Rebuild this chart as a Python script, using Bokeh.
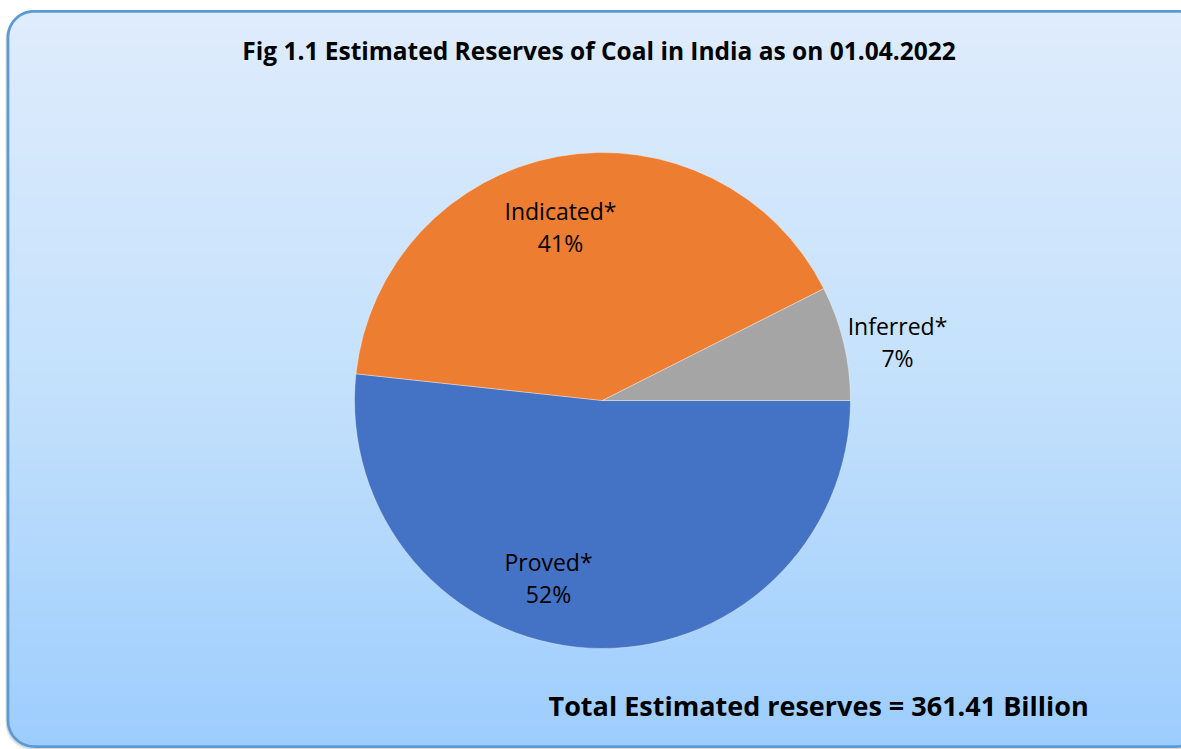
import math
from bokeh.plotting import figure
from bokeh.models import Range1d
from bokeh.core.properties import value
from bokeh.embed import file_html
from bokeh.resources import INLINE

# ---- data ----
categories = ["Proved*", "Indicated*", "Inferred*"]
reserves = [186.9, 147.6, 26.9]          # billion tonnes
colors = ["#4472C4", "#ED7D31", "#A5A5A5"]
title_text = "Fig 1.1 Estimated Reserves of Coal in India as on 01.04.2022"
total_text = "Total  Estimated reserves = 361.41 Billion"

# ---- layout (styling) ----
W, H = 1181, 749
p = figure(width=W, height=H, x_range=Range1d(0, W), y_range=Range1d(0, H),
           x_axis_type=None, y_axis_type=None, toolbar_location=None,
           output_backend="svg", min_border=0)
p.outline_line_color = None
p.grid.visible = False
p.background_fill_color = "white"
p.border_fill_color = "white"

# rounded frame with vertical gradient (drawn as thin overlapping strips)
fl, fr, fb, ft, rad = 7.5, 1203.0, 3.0, 738.2, 26.0
stops = [(0.0, (223, 236, 252)), (0.5, (196, 225, 252)), (1.0, (157, 205, 253))]

def grad(t):
    for (t0, c0), (t1, c1) in zip(stops[:-1], stops[1:]):
        if t0 <= t <= t1:
            f = (t - t0) / (t1 - t0)
            return "#%02x%02x%02x" % tuple(int(round(a + (b - a) * f)) for a, b in zip(c0, c1))
    return "#%02x%02x%02x" % stops[-1][1]

def frame_path(ox=0.0, oy=0.0):
    xs, ys = [], []
    def arc(cx, cy, a0, a1, n=16):
        for i in range(n + 1):
            a = math.radians(a0 + (a1 - a0) * i / n)
            xs.append(ox + cx + rad * math.cos(a)); ys.append(oy + cy + rad * math.sin(a))
    arc(fl + rad, ft - rad, 90, 180)
    arc(fl + rad, fb + rad, 180, 270)
    arc(fr - rad, fb + rad, 270, 360)
    arc(fr - rad, ft - rad, 0, 90)
    xs.append(xs[0]); ys.append(ys[0])
    return xs, ys

# soft shadow
for off, a in [(2.5, 0.12), (1.5, 0.2)]:
    sx, sy = frame_path(-off * 0.6, -off)
    p.line(sx, sy, line_color="#808080", line_width=2.5, line_alpha=a)

lefts, rights, bots, tops, fills = [], [], [], [], []
y = fb
while y < ft:
    yc = y + 0.5
    dx = 0.0
    if yc > ft - rad:
        d = yc - (ft - rad)
        dx = rad - math.sqrt(max(rad * rad - d * d, 0))
    elif yc < fb + rad:
        d = (fb + rad) - yc
        dx = rad - math.sqrt(max(rad * rad - d * d, 0))
    lefts.append(fl + dx)
    rights.append(fr - dx)
    bots.append(y)
    tops.append(min(y + 2.0, ft))
    fills.append(grad((ft - yc) / (ft - fb)))
    y += 1.0
p.quad(left=lefts, right=rights, bottom=bots, top=tops, fill_color=fills,
       line_color=fills, line_width=1)

fx, fy = frame_path()
p.line(fx, fy, line_color="#5B9BD5", line_width=2.75)

# ---- pie ----
cx, cy, R = 602, 349, 248
total = sum(reserves)
cum = 0.0
starts, ends = [], []
for v in reserves:
    starts.append(-(cum + v) / total * 2 * math.pi)
    ends.append(-cum / total * 2 * math.pi)
    cum += v
p.wedge(x=cx, y=cy, radius=R, start_angle=starts, end_angle=ends,
        fill_color=colors, line_color="white", line_width=0.6, line_alpha=0.6)

# data labels
pcts = ["%d%%" % round(v / total * 100) for v in reserves]
lab_x = [548, 560, 897]
lab_y = [188, 539, 424]
p.text(x=lab_x, y=lab_y, text=categories, text_font=value("Open Sans"),
       text_font_size="23px", text_align="center", text_baseline="middle",
       text_color="black")
p.text(x=lab_x, y=[v - 32 for v in lab_y], text=pcts, text_font=value("Open Sans"),
       text_font_size="23px", text_align="center", text_baseline="middle",
       text_color="black")

# title and total
p.text(x=[598.5], y=[699], text=[title_text], text_font=value("Open Sans"),
       text_font_size="24.5px", text_font_style="bold", text_align="center",
       text_baseline="middle", text_color="black")
p.text(x=[548], y=[44], text=[total_text], text_font=value("Open Sans"),
       text_font_size="27px", text_font_style="bold", text_align="left",
       text_baseline="middle", text_color="black")

open("out.html", "w").write(file_html(p, INLINE))
